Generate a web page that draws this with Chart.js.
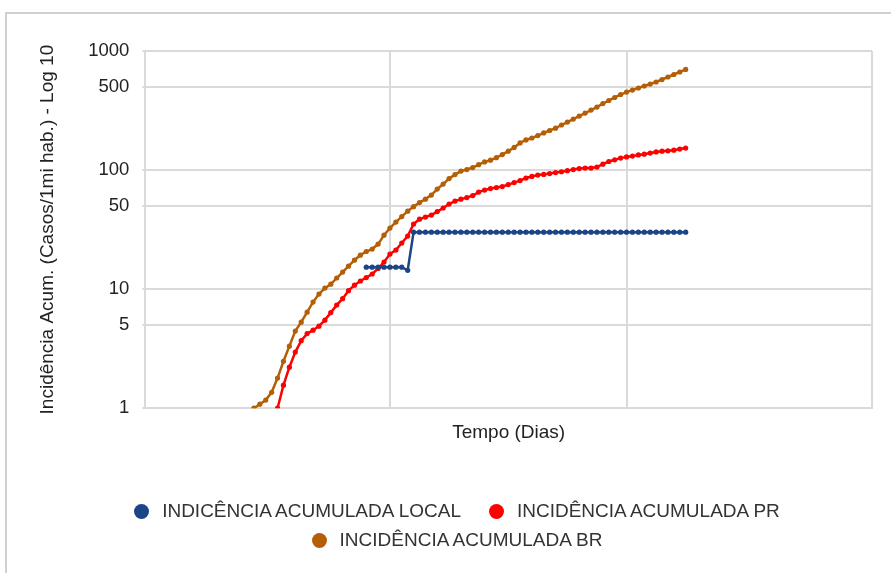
<!DOCTYPE html>
<html>
<head>
<meta charset="utf-8">
<script src="https://cdn.jsdelivr.net/npm/chart.js@4.4.1/dist/chart.umd.min.js"></script>
<style>
  body { margin: 0; background: #fff; font-family: "Liberation Sans", Arial, sans-serif; }
  #frame { position: absolute; left: 5px; top: 12px; width: 900px; height: 600px; border-left: 2px solid #d0d0d0; border-top: 2px solid #d0d0d0; }
  #chart { position: absolute; left: 0; top: 0; }
  #legend { position: absolute; left: 23px; width: 868px; top: 502px; display: flex; flex-wrap: wrap; justify-content: center; column-gap: 28px; row-gap: 11px; font-size: 19px; color: #333; }
  .item { display: flex; align-items: center; line-height: 18px; }
  .dot { width: 15px; height: 15px; border-radius: 50%; margin-right: 13px; }
</style>
</head>
<body>
<div id="frame"></div>
<canvas id="chart" width="891" height="573"></canvas>
<div id="legend"></div>
<script>
// eixo Y (log 10)
const yTicks = [1, 5, 10, 50, 100, 500, 1000];

// cada serie comeca num dia diferente
const localStart = 36;
const localValues = [15.3, 15.3, 15.3, 15.3, 15.3, 15.3, 15.3, 14.4,
  30.1, 30.1, 30.1, 30.1, 30.1, 30.1, 30.1, 30.1, 30.1, 30.1, 30.1, 30.1,
  30.1, 30.1, 30.1, 30.1, 30.1, 30.1, 30.1, 30.1, 30.1, 30.1, 30.1, 30.1,
  30.1, 30.1, 30.1, 30.1, 30.1, 30.1, 30.1, 30.1, 30.1, 30.1, 30.1, 30.1,
  30.1, 30.1, 30.1, 30.1, 30.1, 30.1, 30.1, 30.1, 30.1, 30.1, 30.1];

const prStart = 21;
const prValues = [1.0, 1.56, 2.21, 2.96, 3.69, 4.23, 4.52, 4.89, 5.49, 6.35,
  7.34, 8.32, 9.71, 10.8, 11.7, 12.5, 13.4, 14.9, 16.9, 19.7,
  21.3, 24.4, 27.9, 35.2, 38.7, 40.3, 41.9, 44.8, 48.0, 51.8,
  54.9, 57.0, 58.7, 61.1, 65.3, 67.9, 69.9, 71.3, 72.7, 75.5,
  78.5, 81.6, 85.7, 88.5, 90.8, 92.0, 93.5, 95.3, 96.8, 98.9,
  101, 103, 104, 104, 106, 112, 118, 122, 126, 129,
  131, 134, 136, 139, 142, 144, 145, 147, 150, 153];

const brStart = 17;
const brValues = [1.0, 1.08, 1.17, 1.36, 1.79, 2.48, 3.32, 4.44, 5.28, 6.41,
  7.78, 9.08, 10.2, 11.0, 12.4, 13.9, 15.6, 17.5, 19.3, 20.7,
  21.7, 23.9, 28.4, 32.6, 36.6, 40.7, 45.2, 49.3, 53.3, 57.0,
  61.7, 69.2, 76.3, 84.8, 91.6, 98.1, 101, 105, 111, 117,
  121, 127, 135, 144, 155, 169, 179, 186, 195, 205,
  215, 225, 239, 253, 268, 284, 301, 319, 338, 362,
  384, 407, 431, 452, 470, 489, 508, 528, 549, 576,
  605, 635, 666, 700];

const seriesNames = ['INDICÊNCIA ACUMULADA LOCAL', 'INCIDÊNCIA ACUMULADA PR', 'INCIDÊNCIA ACUMULADA BR'];
const seriesColors = ['#1c4587', '#ff0000', '#b45f06'];

function toPoints(start, values) {
  return values.map((v, k) => ({ x: start + k, y: v }));
}

const gridColor = '#dadada';
const textColor = '#222';

const datasets = [
  toPoints(localStart, localValues),
  toPoints(prStart, prValues),
  toPoints(brStart, brValues)
].map((pts, i) => ({
  label: seriesNames[i],
  data: pts,
  borderColor: seriesColors[i],
  backgroundColor: seriesColors[i],
  borderWidth: 2.5,
  pointRadius: 2.6,
  pointBorderWidth: 0,
  tension: 0
}));

new Chart(document.getElementById('chart'), {
  type: 'line',
  data: { datasets: datasets },
  options: {
    responsive: false,
    animation: false,
    layout: { padding: { left: 0, top: 51, right: 19, bottom: 125 } },
    plugins: {
      legend: { display: false },
      tooltip: { enabled: false }
    },
    scales: {
      x: {
        type: 'linear',
        min: -1.35,
        max: 121.5,
        afterBuildTicks: function (scale) {
          scale.ticks = [{ value: -1.35 }, { value: 40 }, { value: 80 }, { value: 121.5 }];
        },
        ticks: { display: false },
        grid: { color: gridColor, lineWidth: 2, drawTicks: false },
        border: { color: gridColor, width: 2 },
        title: {
          display: true,
          text: 'Tempo (Dias)',
          color: textColor,
          font: { family: 'Liberation Sans', size: 19 },
          padding: { top: 13, bottom: 4 }
        }
      },
      y: {
        type: 'logarithmic',
        min: 1,
        max: 1000,
        afterBuildTicks: function (scale) {
          scale.ticks = yTicks.map(v => ({ value: v }));
        },
        ticks: {
          color: textColor,
          padding: 13,
          font: { family: 'Liberation Sans', size: 18.5 },
          callback: function (value) { return String(value); }
        },
        grid: { color: gridColor, lineWidth: 2, tickLength: 3 },
        border: { color: gridColor, width: 2 },
        title: {
          display: true,
          text: 'Incidência Acum. (Casos/1mi hab.) - Log 10',
          color: textColor,
          font: { family: 'Liberation Sans', size: 19 },
          padding: { top: 36.6, bottom: 15.8 }
        }
      }
    }
  }
});

// legenda em HTML
const legend = document.getElementById('legend');
seriesNames.forEach(function (name, i) {
  const item = document.createElement('div');
  item.className = 'item';
  const dot = document.createElement('span');
  dot.className = 'dot';
  dot.style.background = seriesColors[i];
  item.appendChild(dot);
  item.appendChild(document.createTextNode(name));
  legend.appendChild(item);
});
</script>
</body>
</html>
